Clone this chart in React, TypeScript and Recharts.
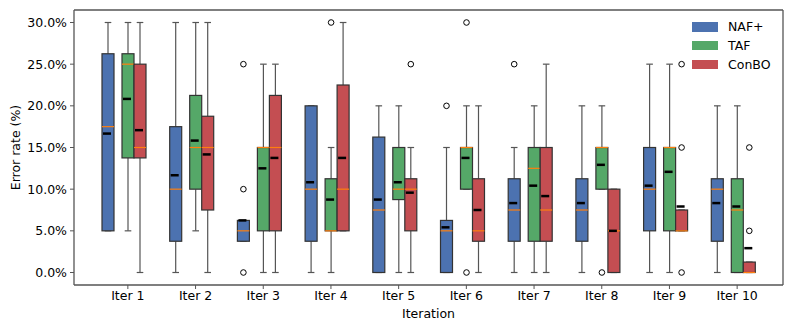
import React from "react";
import { ComposedChart, Bar, XAxis, YAxis, Legend } from "recharts";

const categories = ["Iter 1", "Iter 2", "Iter 3", "Iter 4", "Iter 5", "Iter 6", "Iter 7", "Iter 8", "Iter 9", "Iter 10"];

// each box: [whisker low, q1, median, q3, whisker high, mean]  (error rate in %)
const nafBoxes = [
  [5, 5, 17.5, 26.25, 30, 16.67],
  [0, 3.75, 10, 17.5, 30, 11.67],
  [3.75, 3.75, 5, 6.25, 6.25, 6.25],
  [0, 3.75, 10, 20, 20, 10.83],
  [0, 0, 7.5, 16.25, 20, 8.75],
  [0, 0, 5, 6.25, 15, 5.42],
  [0, 3.75, 7.5, 11.25, 15, 8.33],
  [0, 3.75, 7.5, 11.25, 20, 8.33],
  [0, 5, 10, 15, 25, 10.42],
  [0, 3.75, 10, 11.25, 20, 8.33],
];
const nafOutliers = [[], [], [0, 10, 25], [], [], [20], [25], [], [], []];

const tafBoxes = [
  [5, 13.75, 25, 26.25, 30, 20.83],
  [5, 10, 15, 21.25, 30, 15.83],
  [0, 5, 15, 15, 25, 12.5],
  [0, 5, 5, 11.25, 15, 8.75],
  [0, 8.75, 10, 15, 20, 10.83],
  [10, 10, 15, 15, 20, 13.75],
  [0, 3.75, 12.5, 15, 20, 10.42],
  [10, 10, 15, 15, 20, 12.92],
  [0, 5, 15, 15, 25, 12.08],
  [0, 0, 7.5, 11.25, 20, 7.92],
];
const tafOutliers = [[], [], [], [30], [], [0, 30], [], [0], [], []];

const conboBoxes = [
  [0, 13.75, 15, 25, 30, 17.08],
  [0, 7.5, 15, 18.75, 30, 14.17],
  [0, 5, 15, 21.25, 25, 13.75],
  [5, 5, 10, 22.5, 30, 13.75],
  [0, 5, 10, 11.25, 15, 9.58],
  [0, 3.75, 5, 11.25, 20, 7.5],
  [0, 3.75, 7.5, 15, 25, 9.17],
  [0, 0, 5, 10, 10, 5],
  [5, 5, 5, 7.5, 7.5, 7.92],
  [0, 0, 0, 1.25, 1.25, 2.92],
];
const conboOutliers = [[], [], [], [], [25], [], [], [], [0, 15, 25], [5, 15]];

const yTicks = [0, 5, 10, 15, 20, 25, 30];

const FONT = "DejaVu Sans";
const AXIS = "#555";

const series = [
  { key: "naf", name: "NAF+", color: "#4C72B0", boxes: nafBoxes, outliers: nafOutliers, shift: -8 },
  { key: "taf", name: "TAF", color: "#55A868", boxes: tafBoxes, outliers: tafOutliers, shift: 0 },
  { key: "conbo", name: "ConBO", color: "#C44E52", boxes: conboBoxes, outliers: conboOutliers, shift: 0 },
];

const data = categories.map((name, i) => {
  const row: any = { name };
  series.forEach((s) => {
    row[s.key] = { box: s.boxes[i], out: s.outliers[i] };
  });
  return row;
});

// full vertical extent of a box entry, used as the bar's range
const extent = (b: any) => {
  const vals = [...b.box, ...b.out];
  return [Math.min(...vals), Math.max(...vals)];
};

const makeBoxShape = (key: string, color: string, shift: number) => (props: any) => {
  const { x, y, width, height, payload } = props;
  const b = payload[key];
  const [lo, hi] = extent(b);
  const py = (v: number) => y + (height * (hi - v)) / (hi - lo);
  const cx = x + width / 2 + shift;
  const half = width / 2;
  const [wLo, q1, med, q3, wHi, mean] = b.box;
  return (
    <g>
      <line x1={cx} x2={cx} y1={py(q3)} y2={py(wHi)} stroke={AXIS} strokeWidth={1.2} />
      <line x1={cx} x2={cx} y1={py(q1)} y2={py(wLo)} stroke={AXIS} strokeWidth={1.2} />
      <line x1={cx - 3.3} x2={cx + 3.3} y1={py(wHi)} y2={py(wHi)} stroke={AXIS} strokeWidth={1.2} />
      <line x1={cx - 3.3} x2={cx + 3.3} y1={py(wLo)} y2={py(wLo)} stroke={AXIS} strokeWidth={1.2} />
      <rect x={cx - half} y={py(q3)} width={width} height={py(q1) - py(q3)} fill={color} stroke="#333" strokeWidth={1.2} />
      <line x1={cx - half} x2={cx + half} y1={py(med)} y2={py(med)} stroke="#ff7f0e" strokeWidth={1.2} />
      <line x1={cx - 5} x2={cx + 3} y1={py(mean)} y2={py(mean)} stroke="#000" strokeWidth={2.5} />
      {b.out.map((v: number, i: number) => (
        <circle key={i} cx={cx} cy={py(v)} r={2.8} fill="none" stroke="#000" strokeWidth={1} />
      ))}
    </g>
  );
};

const renderLegend = (props: any) => {
  const { payload } = props;
  const order = series.map((s) => s.name);
  const items = [...payload].sort((a: any, b: any) => order.indexOf(a.value) - order.indexOf(b.value));
  return (
    <div style={{ fontFamily: FONT, fontSize: 12.5, color: "#000" }}>
      {items.map((p: any) => (
        <div key={p.value} style={{ display: "flex", alignItems: "center", height: 18.8 }}>
          <span style={{ display: "inline-block", width: 26, height: 9.5, background: p.color }} />
          <span style={{ marginLeft: 10 }}>{p.value}</span>
        </div>
      ))}
    </div>
  );
};

const YLabel = (props: any) => {
  const { viewBox } = props;
  const x = viewBox.x + 6;
  const y = viewBox.y + viewBox.height / 2;
  return (
    <text x={x} y={y} transform={`rotate(-90, ${x}, ${y})`} textAnchor="middle" fontFamily={FONT} fontSize={12.5} fill="#000">
      Error rate (%)
    </text>
  );
};

const XLabel = (props: any) => {
  const { viewBox } = props;
  const x = viewBox.x + viewBox.width / 2;
  const y = viewBox.y + viewBox.height - 7.5;
  return (
    <text x={x} y={y} textAnchor="middle" fontFamily={FONT} fontSize={12.5} fill="#000">
      Iteration
    </text>
  );
};

export default function App() {
  const tickStyle = { fontSize: 12.5, fill: "#000", fontFamily: FONT };
  return (
    <div style={{ position: "absolute", left: 0, top: 0, background: "#fff" }}>
      <ComposedChart
        width={793}
        height={331}
        data={data}
        margin={{ top: 9, right: 9, bottom: 6, left: 14 }}
        barSize={12}
        barGap={0}
      >
        <XAxis
          dataKey="name"
          padding={{ left: 20, right: 12 }}
          height={40}
          tick={tickStyle}
          tickSize={4}
          tickMargin={2.5}
          stroke={AXIS}
          tickLine={{ stroke: AXIS }}
          axisLine={{ stroke: AXIS, strokeWidth: 1.3 }}
          label={{ content: XLabel }}
        />
        <XAxis
          xAxisId="top"
          dataKey="name"
          orientation="top"
          height={1}
          padding={{ left: 20, right: 12 }}
          tick={false}
          tickLine={false}
          stroke={AXIS}
          axisLine={{ stroke: AXIS, strokeWidth: 1.3 }}
        />
        <YAxis
          domain={[-1.5, 31.5]}
          ticks={yTicks}
          allowDataOverflow
          width={60}
          tick={tickStyle}
          tickSize={4}
          tickMargin={3}
          tickFormatter={(v: number) => `${v.toFixed(1)}%`}
          stroke={AXIS}
          tickLine={{ stroke: AXIS }}
          axisLine={{ stroke: AXIS, strokeWidth: 1.3 }}
          label={{ content: YLabel }}
        />
        <YAxis
          yAxisId="right"
          orientation="right"
          width={1}
          domain={[-1.5, 31.5]}
          allowDataOverflow
          tick={false}
          tickLine={false}
          stroke={AXIS}
          axisLine={{ stroke: AXIS, strokeWidth: 1.3 }}
        />
        <Legend
          content={renderLegend}
          layout="vertical"
          align="center"
          verticalAlign="middle"
          wrapperStyle={{ top: 17.5, left: 692, width: 90 }}
        />
        {series.map((s) => (
          <Bar
            key={s.key}
            name={s.name}
            dataKey={(d: any) => extent(d[s.key])}
            fill={s.color}
            shape={makeBoxShape(s.key, s.color, s.shift)}
            isAnimationActive={false}
          />
        ))}
      </ComposedChart>
    </div>
  );
}
